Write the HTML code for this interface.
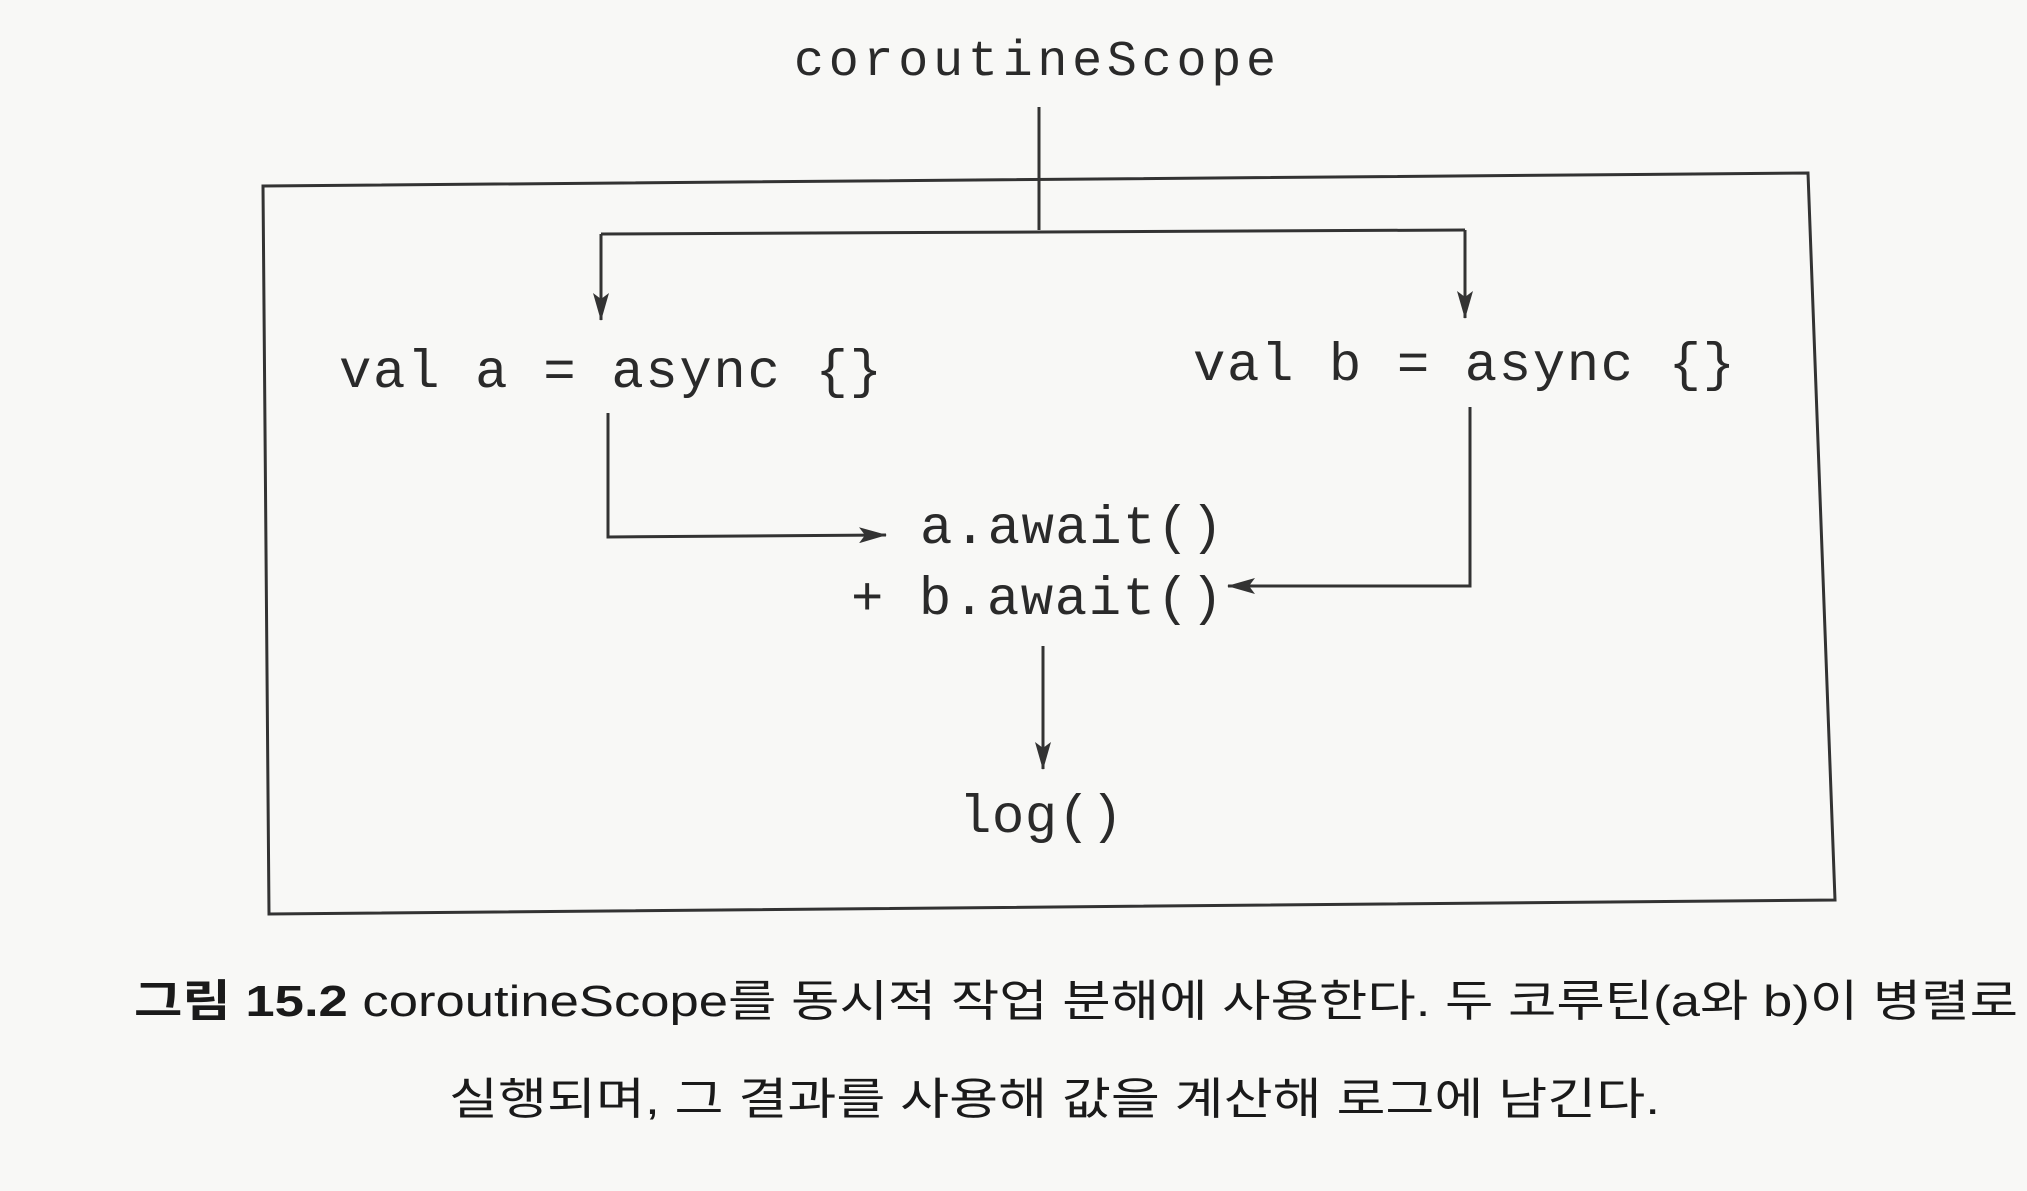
<!DOCTYPE html>
<html><head><meta charset="utf-8"><style>
html,body{margin:0;padding:0;background:#f8f8f6;}
svg{display:block}
.m{font-family:"Liberation Mono",monospace;fill:#2a2a2a;}
.k{font-family:"Liberation Sans","Noto Sans CJK KR",sans-serif;fill:#1a1a1a;}
</style></head><body>
<svg width="2027" height="1191" viewBox="0 0 2027 1191" xmlns="http://www.w3.org/2000/svg">
<defs>
<marker id="ab" markerWidth="28" markerHeight="16" refX="27" refY="8" orient="auto" markerUnits="userSpaceOnUse"><path d="M0,0 L28,8 L0,16 L6,8 z" fill="#333"/></marker></defs>
<g stroke="#333" stroke-width="3" fill="none">
<path d="M263,186 L1808,173 L1835,900 L269,914 Z"/>
<path d="M1039,107 L1039,230"/>
<path d="M601,234 L1465,230"/>
<path d="M601,234 L601,320" marker-end="url(#ab)"/>
<path d="M1465,230 L1465,318" marker-end="url(#ab)"/>
<path d="M608,413 L608,537 L886,535" marker-end="url(#ab)"/>
<path d="M1470,407 L1470,586 L1228,586" marker-end="url(#ab)"/>
<path d="M1043,646 L1043,769" marker-end="url(#ab)"/>
</g>
<text class="m" x="794" y="75" font-size="50" textLength="482">coroutineScope</text>
<text class="m" x="339" y="387" font-size="54" textLength="543">val a = async {}</text>
<text class="m" x="1193" y="380" font-size="54" textLength="542">val b = async {}</text>
<text class="m" x="920" y="543" font-size="54" textLength="303">a.await()</text>
<text class="m" x="851" y="614" font-size="54" textLength="372">+ b.await()</text>
<text class="m" x="959" y="832" font-size="54" textLength="164">log()</text>
<text class="k" x="134" y="1016" font-size="44" textLength="1884" lengthAdjust="spacingAndGlyphs"><tspan font-weight="bold">그림 15.2</tspan> coroutineScope를 동시적 작업 분해에 사용한다. 두 코루틴(a와 b)이 병렬로</text>
<text class="k" x="449" y="1114" font-size="44" textLength="1211" lengthAdjust="spacingAndGlyphs">실행되며, 그 결과를 사용해 값을 계산해 로그에 남긴다.</text>
</svg>
</body></html>
